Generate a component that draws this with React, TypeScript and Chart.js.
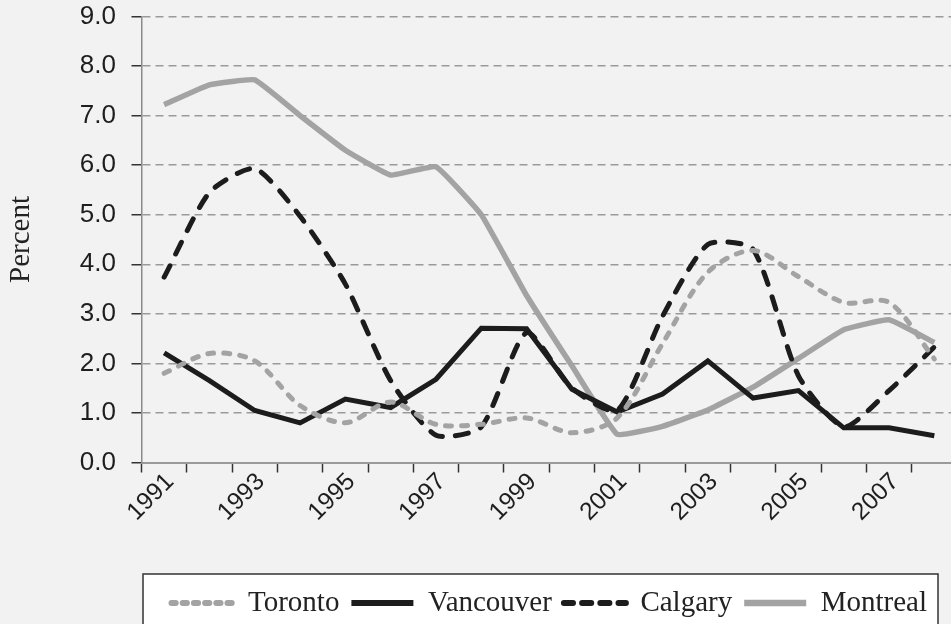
import React, { useEffect, useRef } from "react";
import { Chart, registerables } from "chart.js";

Chart.register(...registerables);

const years = ["1991", "1992", "1993", "1994", "1995", "1996", "1997", "1998", "1999", "2000", "2001", "2002", "2003", "2004", "2005", "2006", "2007", "2008"];
const toronto = [1.8, 2.2, 2.05, 1.15, 0.8, 1.22, 0.77, 0.77, 0.9, 0.6, 0.9, 2.4, 3.84, 4.28, 3.75, 3.23, 3.23, 2.09];
const vancouver = [2.21, 1.65, 1.05, 0.8, 1.28, 1.11, 1.68, 2.71, 2.7, 1.48, 1.02, 1.38, 2.05, 1.3, 1.45, 0.7, 0.7, 0.54];
const calgary = [3.74, 5.45, 5.93, 4.97, 3.6, 1.65, 0.55, 0.72, 2.62, 1.5, 1.05, 2.95, 4.4, 4.3, 1.75, 0.72, 1.45, 2.33];
const montreal = [7.22, 7.62, 7.72, 7.0, 6.3, 5.8, 5.97, 5.0, 3.37, 1.95, 0.57, 0.73, 1.06, 1.52, 2.1, 2.68, 2.88, 2.42];
const yTicks = [0, 1, 2, 3, 4, 5, 6, 7, 8, 9];

const GRAY = "#a3a3a3";
const BLACK = "#1c1c1c";

const legendBoxPlugin = {
  id: "legendBoxPlugin",
  beforeDraw(chart: any) {
    const { ctx, chartArea } = chart;
    const lg = chart.legend;
    ctx.save();
    ctx.fillStyle = "#f2f2f2";
    ctx.fillRect(0, 0, chart.width, chart.height);
    if (lg) {
      const left = chartArea.left + 1.5;
      const right = chartArea.right - 19;
      const top = lg.top - 2.5;
      const bottom = chart.height + 5;
      ctx.fillStyle = "#ffffff";
      ctx.fillRect(left, top, right - left, bottom - top);
      ctx.strokeStyle = "#333333";
      ctx.lineWidth = 1.5;
      ctx.strokeRect(left, top, right - left, bottom - top);
    }
    ctx.restore();
  },
};

export default function App() {
  const canvasRef = useRef<HTMLCanvasElement | null>(null);

  useEffect(() => {
    if (!canvasRef.current) return;
    const tickFont = { family: "'Liberation Sans', Arial, sans-serif", size: 26 };
    const serifFont = { family: "'Liberation Serif', 'Times New Roman', serif", size: 29 };
    const chart = new Chart(canvasRef.current, {
      type: "line",
      data: {
        labels: years,
        datasets: [
          {
            label: "Toronto",
            data: toronto,
            borderColor: GRAY,
            backgroundColor: GRAY,
            borderWidth: 5,
            borderDash: [6, 10],
            borderCapStyle: "round",
            tension: 0.3,
            pointRadius: 0,
          },
          {
            label: "Vancouver",
            data: vancouver,
            borderColor: BLACK,
            backgroundColor: BLACK,
            borderWidth: 5,
            tension: 0,
            pointRadius: 0,
          },
          {
            label: "Calgary",
            data: calgary,
            borderColor: BLACK,
            backgroundColor: BLACK,
            borderWidth: 5,
            borderDash: [13, 13],
            borderCapStyle: "round",
            tension: 0.22,
            pointRadius: 0,
          },
          {
            label: "Montreal",
            data: montreal,
            borderColor: GRAY,
            backgroundColor: GRAY,
            borderWidth: 5.5,
            tension: 0.1,
            pointRadius: 0,
          },
        ],
      },
      options: {
        animation: false,
        responsive: true,
        maintainAspectRatio: false,
        layout: { padding: { top: 16.5, right: 3, bottom: 12.5, left: 0 } },
        plugins: {
          tooltip: { enabled: false },
          legend: {
            position: "bottom",
            fullSize: false,
            labels: {
              usePointStyle: true,
              pointStyle: "line",
              pointStyleWidth: 62,
              font: serifFont,
              color: "#222222",
              padding: 12,
              generateLabels: (ch: any) =>
                ch.data.datasets.map((ds: any, i: number) => ({
                  text: ds.label,
                  fillStyle: ds.borderColor,
                  strokeStyle: ds.borderColor,
                  fontColor: "#222222",
                  lineWidth: ds.borderWidth + 1,
                  lineDash: ds.borderDash ? ds.borderDash.map((d: number) => d * 0.7) : [],
                  lineCap: ds.borderCapStyle || "butt",
                  pointStyle: "line",
                  hidden: false,
                  datasetIndex: i,
                })),
            },
          },
        },
        scales: {
          x: {
            type: "category",
            offset: true,
            grid: {
              offset: true,
              drawOnChartArea: false,
              tickLength: 10,
              tickColor: "#333333",
              tickWidth: 1.5,
            },
            border: { color: "#9a9a9a", width: 2 },
            ticks: {
              autoSkip: false,
              minRotation: 45,
              maxRotation: 45,
              font: { family: "'Liberation Sans', Arial, sans-serif", size: 24.5 },
              color: "#1e1e1e",
              padding: -5,
              labelOffset: 6,
              callback: (_v: any, i: number) => (i % 2 === 0 ? years[i] : ""),
            },
            afterFit: (s: any) => {
              s.height = 114;
            },
          },
          y: {
            min: 0,
            max: 9,
            afterBuildTicks: (s: any) => {
              s.ticks = yTicks.map((v) => ({ value: v }));
            },
            grid: {
              color: "#9a9a9a",
              lineWidth: 1.5,
              tickLength: 10,
              tickColor: "#333333",
              tickWidth: 1.5,
              tickBorderDash: [],
            },
            border: { color: "#8a8a8a", width: 1.5, dash: [8, 5] },
            ticks: {
              font: tickFont,
              color: "#1e1e1e",
              padding: 15.5,
              callback: (v: any) => Number(v).toFixed(1),
            },
            title: {
              display: true,
              text: "Percent",
              font: serifFont,
              color: "#222222",
              padding: { top: 4, bottom: 0 },
            },
            afterFit: (s: any) => {
              s.width = 141.5;
              s.paddingTop = 0;
              s.paddingBottom = 0;
            },
          },
        },
      },
      plugins: [legendBoxPlugin],
    } as any);
    return () => chart.destroy();
  }, []);

  return (
    <div
      style={{
        position: "fixed",
        left: 0,
        top: 0,
        width: 951,
        height: 624,
        overflow: "hidden",
        background: "#f2f2f2",
      }}
    >
      <div style={{ position: "relative", width: 960, height: 640 }}>
        <canvas ref={canvasRef} />
      </div>
    </div>
  );
}
